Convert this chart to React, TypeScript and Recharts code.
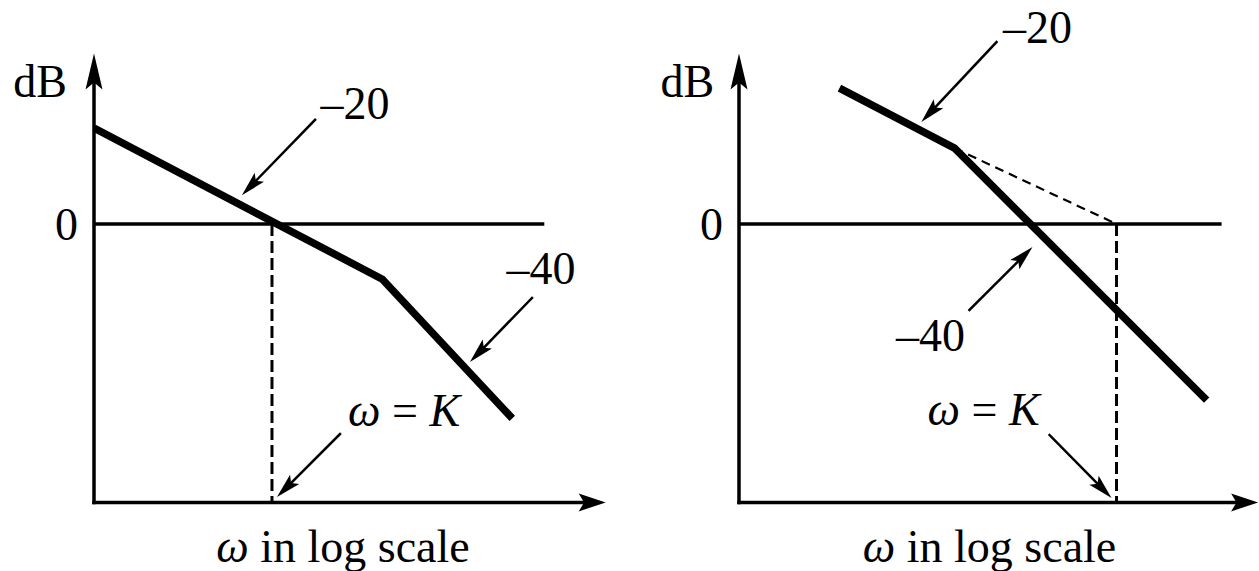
import React from "react";
import { ComposedChart, Line, XAxis, YAxis, ReferenceLine, ReferenceDot } from "recharts";

const FONT = '"Liberation Serif", "DejaVu Serif", serif';
const FONT_SIZE = 46;

// x = log10(ω / K) in decades, y = gain in dB
// left sketch: crossover below K
const leftGain = [
  { x: -1, y: 20 },
  { x: 0.62, y: -11.5 },
  { x: 1.35, y: -40.5 },
];
const leftZero = [
  { x: -1, y: 0 },
  { x: 1.53, y: 0 },
];
const leftK = [
  { x: 0, y: 0 },
  { x: 0, y: -58 },
];

// right sketch: -20 asymptote extended to K
const rightGain = [
  { x: -1.556, y: 28.3 },
  { x: -0.91, y: 15.8 },
  { x: 0.506, y: -36.7 },
];
const rightExtension = [
  { x: -0.91, y: 15.8 },
  { x: 0, y: 0 },
];
const rightZero = [
  { x: -2.12, y: 0 },
  { x: 0.59, y: 0 },
];
const rightK = [
  { x: 0, y: 0 },
  { x: 0, y: -58 },
];

const yTicks = [0];

// annotation text and pointer arrows, in the same data units
const leftLabels = [
  { text: "dB", x: -1.303, y: 29.8 },
  { text: "–20", x: 0.466, y: 25.2 },
  { text: "–40", x: 1.511, y: -9.2 },
  { text: "ω = K", x: 0.742, y: -38.75 },
  { text: "ω in log scale", x: 0.399, y: -67 },
];
const leftPointers = [
  { from: { x: 0.242, y: 21.7 }, to: { x: -0.169, y: 6.0 } },
  { from: { x: 1.461, y: -15.4 }, to: { x: 1.112, y: -28.75 } },
  { from: { x: 0.382, y: -43.75 }, to: { x: 0.028, y: -56.9 } },
];

const rightLabels = [
  { text: "dB", x: -2.41, y: 29.8 },
  { text: "–20", x: -0.444, y: 41.0 },
  { text: "–40", x: -1.045, y: -23.1 },
  { text: "ω = K", x: -0.747, y: -38.5 },
  { text: "ω in log scale", x: -0.713, y: -67 },
];
const rightPointers = [
  { from: { x: -0.674, y: 37.9 }, to: { x: -1.096, y: 21.25 } },
  { from: { x: -0.826, y: -17.9 }, to: { x: -0.472, y: -4.8 } },
  { from: { x: -0.376, y: -43.96 }, to: { x: -0.028, y: -57.1 } },
];

// line with a filled head at (x2, y2)
const arrowShape = (width: number, head: number, half: number) => (p: any) => {
  const { x1, y1, x2, y2 } = p;
  const len = Math.hypot(x2 - x1, y2 - y1) || 1;
  const ux = (x2 - x1) / len;
  const uy = (y2 - y1) / len;
  const bx = x2 - ux * head;
  const by = y2 - uy * head;
  const px = -uy * half;
  const py = ux * half;
  const nx = bx + ux * head * 0.2;
  const ny = by + uy * head * 0.2;
  return (
    <g>
      <line x1={x1} y1={y1} x2={nx} y2={ny} stroke="#000" strokeWidth={width} strokeLinecap="square" />
      <polygon points={`${x2},${y2} ${bx + px},${by + py} ${nx},${ny} ${bx - px},${by - py}`} fill="#000" />
    </g>
  );
};

const SketchText = ({ cx, cy, text }: { cx: number; cy: number; text: string }) => {
  // ω and K are set in italics
  const parts = text.split(/([ωK])/).filter((s) => s.length > 0);
  return (
    <text
      x={cx}
      y={cy}
      textAnchor="middle"
      dominantBaseline="central"
      fontFamily={FONT}
      fontSize={FONT_SIZE}
      fill="#000"
      style={{ whiteSpace: "pre" }}
    >
      {parts.map((s, i) => (
        <tspan key={i} fontStyle={s === "ω" || s === "K" ? "italic" : "normal"}>
          {s}
        </tspan>
      ))}
    </text>
  );
};

type Pt = { x: number; y: number };

const Panel = ({
  left,
  width,
  axisWidth,
  marginRight,
  domain,
  gain,
  zero,
  kLine,
  extension,
  labels,
  pointers,
}: {
  left: number;
  width: number;
  axisWidth: number;
  marginRight: number;
  domain: [number, number];
  gain: Pt[];
  zero: Pt[];
  kLine: Pt[];
  extension?: Pt[];
  labels: { text: string; x: number; y: number }[];
  pointers: { from: Pt; to: Pt }[];
}) => {
  return (
    <div style={{ position: "absolute", left, top: 0 }}>
      <ComposedChart width={width} height={571} margin={{ top: 51.2, right: marginRight, bottom: 68.6, left: 0 }}>
        <XAxis type="number" dataKey="x" domain={domain} allowDataOverflow hide />
        <YAxis
          type="number"
          dataKey="y"
          domain={[-58, 36]}
          allowDataOverflow
          ticks={yTicks}
          width={axisWidth}
          axisLine={false}
          tickLine={false}
          tickSize={0}
          tickMargin={16}
          tick={{ fill: "#000", fontSize: FONT_SIZE, fontFamily: FONT }}
        />
        <Line data={zero} dataKey="y" stroke="#000" strokeWidth={3.5} dot={false} activeDot={false} isAnimationActive={false} />
        <Line data={kLine} dataKey="y" stroke="#000" strokeWidth={3} strokeDasharray="12 5" dot={false} activeDot={false} isAnimationActive={false} />
        {extension && (
          <Line data={extension} dataKey="y" stroke="#000" strokeWidth={2.2} strokeDasharray="9 6" dot={false} activeDot={false} isAnimationActive={false} />
        )}
        <Line data={gain} dataKey="y" stroke="#000" strokeWidth={7.5} strokeLinejoin="miter" dot={false} activeDot={false} isAnimationActive={false} />
        {/* axes with arrow heads */}
        <ReferenceLine
          segment={[{ x: domain[0], y: -58 }, { x: domain[0], y: 35.5 }]}
          ifOverflow="visible"
          shape={arrowShape(3.5, 36, 8.5)}
        />
        <ReferenceLine
          segment={[{ x: domain[0], y: -58 }, { x: domain[1] - 0.005, y: -58 }]}
          ifOverflow="visible"
          shape={arrowShape(3.5, 27, 9)}
        />
        {pointers.map((p, i) => (
          <ReferenceLine key={`p-${i}`} segment={[p.from, p.to]} ifOverflow="visible" shape={arrowShape(2.5, 25, 6.5)} />
        ))}
        {labels.map((n, i) => (
          <ReferenceDot
            key={`l-${i}`}
            x={n.x}
            y={n.y}
            r={1}
            ifOverflow="visible"
            shape={(p: any) => <SketchText cx={p.cx} cy={p.cy} text={n.text} />}
          />
        ))}
      </ComposedChart>
    </div>
  );
};

export default function App() {
  return (
    <div style={{ position: "absolute", left: 0, top: 0, width: 1259, height: 571, background: "#fff" }}>
      <Panel
        left={0}
        width={629}
        axisWidth={94}
        marginRight={22.4}
        domain={[-1, 1.88]}
        gain={leftGain}
        zero={leftZero}
        kLine={leftK}
        labels={leftLabels}
        pointers={leftPointers}
      />
      <Panel
        left={629}
        width={630}
        axisWidth={110}
        marginRight={0}
        domain={[-2.12, 0.8]}
        gain={rightGain}
        zero={rightZero}
        kLine={rightK}
        extension={rightExtension}
        labels={rightLabels}
        pointers={rightPointers}
      />
    </div>
  );
}
